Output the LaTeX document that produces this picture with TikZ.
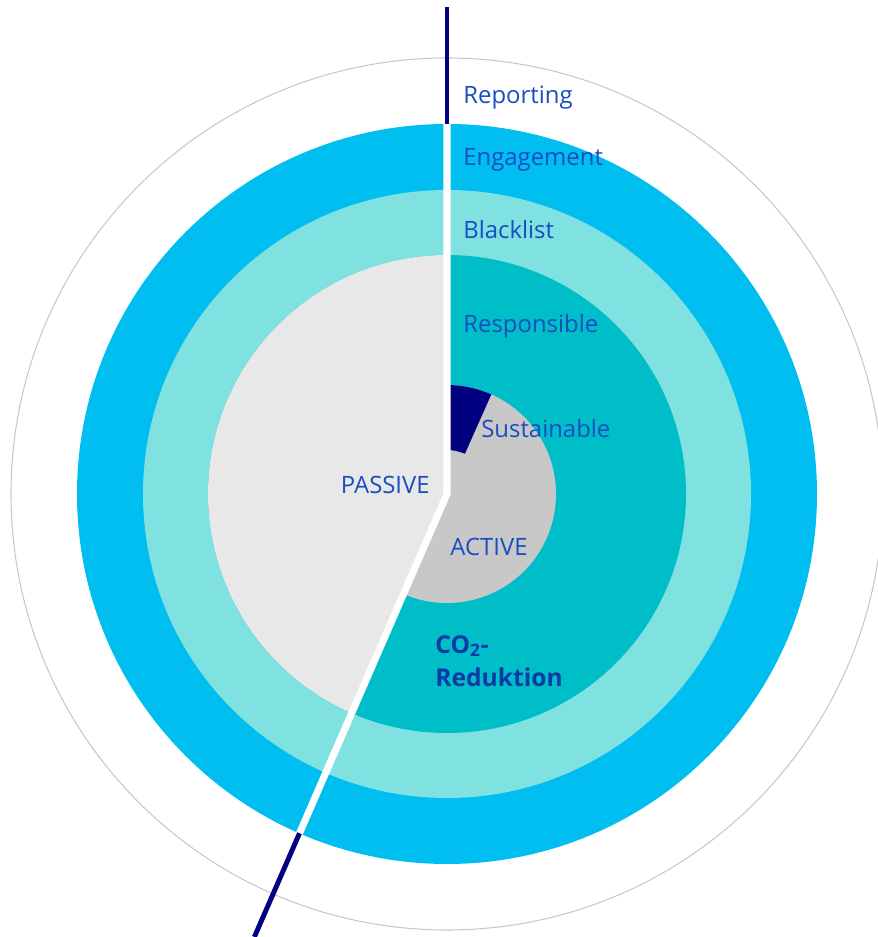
\documentclass[tikz,border=0pt]{standalone}
\usepackage{fontspec}
\setmainfont{Open Sans}
\usepackage{tikz}
\usetikzlibrary{positioning}

\definecolor{engblue}{HTML}{00BEEF}
\definecolor{blacklistteal}{HTML}{80E1E1}
\definecolor{respteal}{HTML}{00BEC8}
\definecolor{passivegrey}{HTML}{E8E8E8}
\definecolor{activegrey}{HTML}{C8C8C8}
\definecolor{rimgrey}{HTML}{C8C8C8}
\definecolor{navy}{HTML}{000080}
\definecolor{labelblue}{HTML}{1A4CC2}
\definecolor{co2blue}{HTML}{0B3AA6}

\tikzset{
  ringlabel/.style={anchor=west, inner sep=0pt, text=labelblue, font=\fontsize{13.6}{17}\selectfont},
  divider/.style={white, line width=4pt, line join=miter},
  axisline/.style={navy, line width=2.8pt}
}

\begin{document}
\begin{tikzpicture}
    \useasboundingbox (-8.94,-8.86) rectangle (8.6,9.88);

    % rings
    \draw[rimgrey, line width=0.6pt] (0,0) circle (8.72);
    \fill[engblue] (0,0) circle (7.4);
    \fill[blacklistteal] (0,0) circle (6.08);
    \fill[respteal] (0,0) circle (4.78);
    \fill[passivegrey] (0,0) -- (90:4.78) arc (90:246.5:4.78) -- cycle;
    \fill[activegrey] (0,0) -- (246.5:2.18) arc (-113.5:90:2.18) -- cycle;
    \fill[navy] (66:0.88) arc (66:90:0.88) -- (90:2.18) arc (90:66:2.18) -- cycle;

    % split between passive and active
    \coordinate (c) at (0,0);
    \coordinate (top) at (90:7.4);
    \coordinate (bottom) at (246.5:7.4);
    \coordinate (topend) at (90:9.74);
    \coordinate (bottomend) at (246.5:9.66);
    \draw[divider] (top) -- (c) -- (bottom);
    \draw[axisline] (top) -- (topend);
    \draw[axisline] (bottom) -- (bottomend);

    \node[ringlabel] (reporting) at (0.32,7.92) {Reporting};
    \node[ringlabel] (engagement) at (0.32,6.68) {Engagement};
    \node[ringlabel] (blacklist) at (0.32,5.28) {Blacklist};
    \node[ringlabel] (responsible) at (0.32,3.36) {Responsible};
    \node[ringlabel] (sustainable) at (0.68,1.30) {Sustainable};
    \node[ringlabel, anchor=east] (passive) at (-0.34,0.18) {PASSIVE};
    \node[ringlabel, anchor=center] (active) at (0.84,-1.06) {ACTIVE};
    \node[ringlabel, text=co2blue, align=left, font=\fontsize{14}{19}\selectfont\bfseries] (co2) at (-0.24,-3.34) {CO\textsubscript{2}-\\Reduktion};
\end{tikzpicture}
\end{document}
